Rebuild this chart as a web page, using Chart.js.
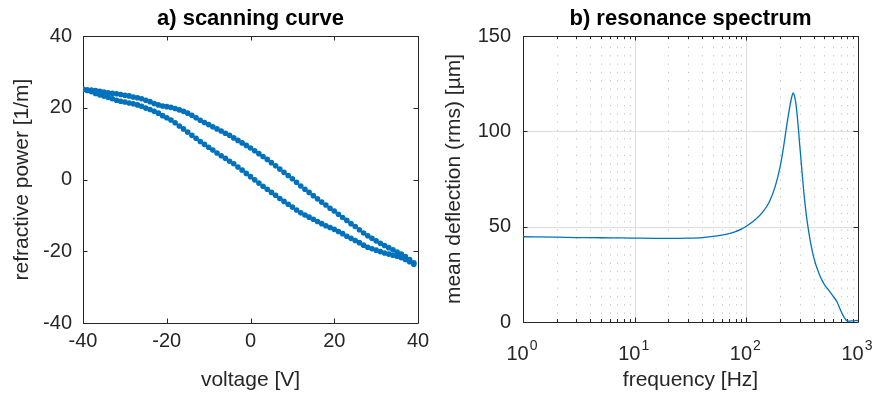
<!DOCTYPE html>
<html>
<head>
<meta charset="utf-8">
<script src="https://cdn.jsdelivr.net/npm/chart.js@4/dist/chart.umd.min.js"></script>
<style>
  html, body { margin: 0; padding: 0; background: #fff; }
  #wrap { position: relative; width: 877px; height: 399px; }
  canvas { position: absolute; top: 0; }
  #scanCanvas { left: 0; }
  #specCanvas { left: 440px; }
</style>
</head>
<body>
<div id="wrap">
  <canvas id="scanCanvas" width="440" height="399"></canvas>
  <canvas id="specCanvas" width="437" height="399"></canvas>
</div>
<script>
// a) scanning curve: voltage sweep, one value per volt
const VOLTAGE = [
  -40, -39, -38, -37, -36, -35, -34, -33, -32, -31,
  -30, -29, -28, -27, -26, -25, -24, -23, -22, -21,
  -20, -19, -18, -17, -16, -15, -14, -13, -12, -11,
  -10, -9, -8, -7, -6, -5, -4, -3, -2, -1,
  0, 1, 2, 3, 4, 5, 6, 7, 8, 9,
  10, 11, 12, 13, 14, 15, 16, 17, 18, 19,
  20, 21, 22, 23, 24, 25, 26, 27, 28, 29,
  30, 31, 32, 33, 34, 35, 36, 37, 38, 39
];
// refractive power [1/m], lower branch (rising voltage)
const POWER_UP = [
  25.0, 24.8, 24.5, 24.0, 23.6, 23.2, 22.9, 22.5, 22.1, 21.8,
  21.6, 21.3, 21.1, 20.8, 20.4, 19.9, 19.5, 19.0, 18.5, 17.8,
  17.2, 16.6, 15.8, 14.9, 14.1, 13.2, 12.3, 11.5, 10.6, 9.8,
  9.0, 8.2, 7.4, 6.6, 5.9, 5.1, 4.4, 3.5, 2.6, 1.7,
  0.8, -0.1, -1.0, -1.9, -2.7, -3.6, -4.4, -5.3, -6.1, -6.9,
  -7.7, -8.5, -9.3, -9.9, -10.5, -11.1, -11.7, -12.3, -12.9, -13.4,
  -13.9, -14.5, -15.1, -15.8, -16.4, -17.0, -17.6, -18.3, -18.9, -19.3,
  -19.7, -20.1, -20.5, -20.8, -21.1, -21.4, -21.8, -22.3, -22.9, -23.6
];
// refractive power [1/m], upper branch (falling voltage)
const POWER_DOWN = [
  25.2, 25.0, 24.9, 24.8, 24.6, 24.4, 24.2, 24.0, 23.9, 23.7,
  23.5, 23.3, 23.0, 22.8, 22.5, 22.1, 21.7, 21.2, 20.8, 20.5,
  20.3, 20.1, 19.8, 19.4, 19.0, 18.5, 17.9, 17.2, 16.5, 15.9,
  15.3, 14.7, 14.1, 13.5, 12.9, 12.3, 11.6, 10.9, 10.2, 9.5,
  8.8, 8.0, 7.2, 6.4, 5.6, 4.7, 3.8, 2.9, 2.0, 1.1,
  0.2, -0.8, -1.8, -2.7, -3.6, -4.5, -5.4, -6.3, -7.1, -8.0,
  -8.8, -9.7, -10.6, -11.4, -12.3, -13.1, -14.0, -14.9, -15.7, -16.4,
  -17.1, -17.8, -18.4, -19.0, -19.6, -20.2, -20.8, -21.5, -22.3, -23.2
];
const SCAN_TICKS = [-40, -20, 0, 20, 40];

// b) resonance spectrum
const FREQ = [
  1, 2, 3, 5, 7, 10, 15, 20, 30, 40, 50, 60, 70, 80, 90, 100,
  120, 140, 160, 180, 200, 215, 230, 245, 255, 262, 270, 280, 290, 300,
  315, 330, 350, 375, 400, 450, 500, 550, 600, 650, 700, 750, 800, 850, 900, 1000
];
const DEFLECTION = [
  44.7, 44.5, 44.3, 44.2, 44.1, 44.0, 43.9, 43.9, 44.0, 44.3, 44.9, 45.6, 46.4, 47.4, 48.7, 50.2,
  53.6, 57.6, 62.8, 70.5, 81.0, 91.5, 103.0, 113.0, 118.0, 120.2, 118.5, 113.0, 104.0, 93.5,
  79.0, 66.0, 53.0, 42.0, 34.2, 25.0, 19.6, 16.5, 13.5, 10.5, 6.0, 2.5, 0.6, 0.5, 0.6, 0.8
];
const SPEC_Y_TICKS = [0, 50, 100, 150];
const DECADES = [0, 1, 2, 3];

const FONT = "'Liberation Sans', Arial, sans-serif";
const BLUE = '#0072BD';
const AXIS = '#262626';
Chart.defaults.font.family = FONT;
Chart.defaults.color = AXIS;

function tickFont(size) { return { family: FONT, size: size }; }

// box around the plot area with inward tick marks on all four sides
function drawFrame(chart, xValues, yValues, minorX) {
  const { ctx, chartArea: a, scales } = chart;
  ctx.save();
  ctx.strokeStyle = AXIS;
  ctx.lineWidth = 1;
  ctx.beginPath();
  ctx.rect(Math.round(a.left) + 0.5, Math.round(a.top) + 0.5,
           Math.round(a.right - a.left), Math.round(a.bottom - a.top));
  ctx.stroke();
  ctx.beginPath();
  const tick = (v, len, horiz) => {
    if (horiz) {
      const px = Math.round(scales.x.getPixelForValue(v)) + 0.5;
      ctx.moveTo(px, a.bottom); ctx.lineTo(px, a.bottom - len);
      ctx.moveTo(px, a.top); ctx.lineTo(px, a.top + len);
    } else {
      const py = Math.round(scales.y.getPixelForValue(v)) + 0.5;
      ctx.moveTo(a.left, py); ctx.lineTo(a.left + len, py);
      ctx.moveTo(a.right, py); ctx.lineTo(a.right - len, py);
    }
  };
  xValues.forEach(v => tick(v, 4.5, true));
  (minorX || []).forEach(v => tick(v, 3, true));
  yValues.forEach(v => tick(v, 4.5, false));
  ctx.stroke();
  ctx.restore();
}

function drawTitle(chart, text) {
  const { ctx, chartArea: a } = chart;
  ctx.save();
  ctx.font = 'bold 22px ' + FONT;
  ctx.fillStyle = '#000';
  ctx.textAlign = 'center';
  ctx.textBaseline = 'alphabetic';
  ctx.fillText(text, (a.left + a.right) / 2, 25);
  ctx.restore();
}

const scanPoints = VOLTAGE.map((v, i) => ({ x: v, y: POWER_UP[i] }))
  .concat(VOLTAGE.slice().reverse().map((v, i) => ({ x: v, y: POWER_DOWN[POWER_DOWN.length - 1 - i] })));

new Chart(document.getElementById('scanCanvas'), {
  type: 'scatter',
  data: {
    datasets: [{
      label: 'scanning curve',
      data: scanPoints,
      showLine: true,
      borderColor: BLUE,
      borderWidth: 1,
      backgroundColor: BLUE,
      pointRadius: 2.8,
      pointBorderWidth: 0,
      pointHoverRadius: 0
    }]
  },
  options: {
    responsive: false,
    animation: false,
    events: [],
    layout: { padding: { top: 36, right: 22, left: 0, bottom: 0 } },
    plugins: { legend: { display: false }, tooltip: { enabled: false }, title: { display: false } },
    scales: {
      x: {
        type: 'linear', min: -40, max: 40,
        afterBuildTicks: s => { s.ticks = SCAN_TICKS.map(v => ({ value: v })); },
        ticks: { font: tickFont(20), padding: 6, color: AXIS, maxRotation: 0 },
        grid: { display: false, drawTicks: false },
        border: { display: false },
        title: { display: true, text: 'voltage [V]', font: tickFont(21), color: AXIS, padding: { bottom: 6 } },
        afterFit: s => { s.height = 76; }
      },
      y: {
        type: 'linear', min: -40, max: 40,
        afterBuildTicks: s => { s.ticks = SCAN_TICKS.map(v => ({ value: v })); },
        ticks: { font: tickFont(20), padding: 11, color: AXIS },
        grid: { display: false, drawTicks: false },
        border: { display: false },
        title: { display: true, text: 'refractive power [1/m]', font: tickFont(21), color: AXIS, padding: { top: 10 } },
        afterFit: s => { s.width = 83; }
      }
    }
  },
  plugins: [{
    id: 'scanFrame',
    beforeDatasetsDraw(chart) { drawFrame(chart, SCAN_TICKS, SCAN_TICKS); },
    afterDraw(chart) { drawTitle(chart, 'a) scanning curve'); }
  }]
});

// log-axis positions for the minor grid (2..9 per decade)
const MINOR_FREQ = [];
DECADES.slice(0, -1).forEach(d => {
  [2, 3, 4, 5, 6, 7, 8, 9].forEach(m => MINOR_FREQ.push(m * Math.pow(10, d)));
});
const MAJOR_FREQ = DECADES.map(d => Math.pow(10, d));

new Chart(document.getElementById('specCanvas'), {
  type: 'line',
  data: {
    datasets: [{
      label: 'resonance spectrum',
      data: FREQ.map((f, i) => ({ x: f, y: DEFLECTION[i] })),
      borderColor: BLUE,
      borderWidth: 1.3,
      pointRadius: 0,
      fill: false,
      cubicInterpolationMode: 'monotone'
    }]
  },
  options: {
    responsive: false,
    animation: false,
    events: [],
    layout: { padding: { top: 36, right: 19, left: 0, bottom: 0 } },
    plugins: { legend: { display: false }, tooltip: { enabled: false }, title: { display: false } },
    scales: {
      x: {
        type: 'logarithmic', min: 1, max: 1000,
        ticks: { display: false },
        grid: { display: false, drawTicks: false },
        border: { display: false },
        title: { display: true, text: 'frequency [Hz]', font: tickFont(21), color: AXIS, padding: { bottom: 6 } },
        afterFit: s => { s.height = 77; }
      },
      y: {
        type: 'linear', min: 0, max: 150,
        afterBuildTicks: s => { s.ticks = SPEC_Y_TICKS.map(v => ({ value: v })); },
        ticks: { font: tickFont(20), padding: 12, color: AXIS },
        grid: { display: false, drawTicks: false },
        border: { display: false },
        title: { display: true, text: 'mean deflection (rms) [\u00b5m]', font: tickFont(21), color: AXIS, padding: { top: 2 } },
        afterFit: s => { s.width = 83; }
      }
    }
  },
  plugins: [{
    id: 'specGrid',
    beforeDatasetsDraw(chart) {
      const { ctx, chartArea: a, scales } = chart;
      ctx.save();
      ctx.lineWidth = 1;
      // minor dotted grid
      ctx.strokeStyle = '#c4c4c4';
      ctx.setLineDash([1.2, 7.1]);
      ctx.beginPath();
      MINOR_FREQ.forEach(f => {
        const px = Math.round(scales.x.getPixelForValue(f)) + 0.5;
        ctx.moveTo(px, a.bottom); ctx.lineTo(px, a.top);
      });
      ctx.stroke();
      // major grid
      ctx.setLineDash([]);
      ctx.strokeStyle = '#dedede';
      ctx.beginPath();
      MAJOR_FREQ.slice(1, -1).forEach(f => {
        const px = Math.round(scales.x.getPixelForValue(f)) + 0.5;
        ctx.moveTo(px, a.bottom); ctx.lineTo(px, a.top);
      });
      SPEC_Y_TICKS.slice(1, -1).forEach(v => {
        const py = Math.round(scales.y.getPixelForValue(v)) + 0.5;
        ctx.moveTo(a.left, py); ctx.lineTo(a.right, py);
      });
      ctx.stroke();
      ctx.restore();
      drawFrame(chart, MAJOR_FREQ, SPEC_Y_TICKS, MINOR_FREQ);
    },
    afterDraw(chart) {
      const { ctx, chartArea: a, scales } = chart;
      ctx.save();
      ctx.fillStyle = AXIS;
      ctx.textAlign = 'left';
      ctx.textBaseline = 'alphabetic';
      DECADES.forEach(d => {
        const px = scales.x.getPixelForValue(Math.pow(10, d));
        ctx.font = '20px ' + FONT;
        const wBase = ctx.measureText('10').width;
        ctx.font = '14px ' + FONT;
        const wExp = ctx.measureText(String(d)).width;
        const x0 = px - (wBase + wExp + 1) / 2 - 1;
        ctx.font = '20px ' + FONT;
        ctx.fillText('10', x0, a.bottom + 38);
        ctx.font = '14px ' + FONT;
        ctx.fillText(String(d), x0 + wBase + 1, a.bottom + 28);
      });
      ctx.restore();
      drawTitle(chart, 'b) resonance spectrum');
    }
  }]
});
</script>
</body>
</html>
